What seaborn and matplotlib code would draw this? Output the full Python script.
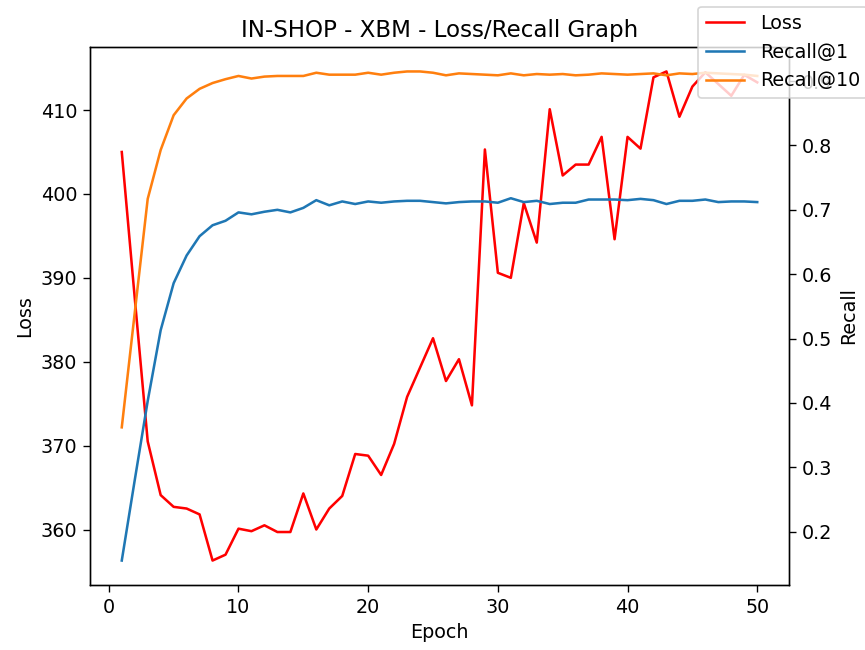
import matplotlib
matplotlib.use("Agg")
import matplotlib.pyplot as plt
import seaborn as sns
import pandas as pd

epochs = list(range(1, 51))

loss = [405.0, 387.6, 370.5, 364.1, 362.7, 362.5, 361.8, 356.3, 357.0, 360.1,
        359.8, 360.5, 359.7, 359.7, 364.3, 360.0, 362.5, 364.0, 369.0, 368.8,
        366.5, 370.2, 375.8, 379.3, 382.8, 377.7, 380.3, 374.8, 405.3, 390.6,
        390.0, 398.9, 394.2, 410.1, 402.2, 403.5, 403.5, 406.8, 394.6, 406.8,
        405.4, 413.9, 414.6, 409.2, 412.8, 414.5, 413.1, 411.7, 414.2, 413.3]

recall1 = [0.155, 0.280, 0.403, 0.513, 0.586, 0.629, 0.659, 0.676, 0.683, 0.696,
           0.693, 0.697, 0.700, 0.696, 0.703, 0.715, 0.707, 0.713, 0.709, 0.713,
           0.711, 0.713, 0.714, 0.714, 0.712, 0.710, 0.712, 0.713, 0.713, 0.711,
           0.718, 0.712, 0.714, 0.709, 0.711, 0.711, 0.716, 0.716, 0.716, 0.715,
           0.717, 0.715, 0.709, 0.714, 0.714, 0.716, 0.712, 0.713, 0.713, 0.712]

recall10 = [0.362, 0.540, 0.717, 0.793, 0.847, 0.873, 0.888, 0.897, 0.903, 0.908,
            0.904, 0.907, 0.908, 0.908, 0.908, 0.913, 0.910, 0.910, 0.910, 0.913,
            0.910, 0.913, 0.915, 0.915, 0.913, 0.909, 0.912, 0.911, 0.910, 0.909,
            0.912, 0.909, 0.911, 0.910, 0.911, 0.909, 0.910, 0.912, 0.911, 0.910,
            0.911, 0.912, 0.909, 0.912, 0.911, 0.913, 0.912, 0.911, 0.910, 0.908]

df = pd.DataFrame({"Epoch": epochs, "Loss": loss,
                   "Recall@1": recall1, "Recall@10": recall10})

plt.rcParams["font.size"] = 11.3
plt.rcParams["xtick.major.size"] = 4
plt.rcParams["ytick.major.size"] = 4

DPI = 122
fig = plt.figure(figsize=(865 / DPI, 650 / DPI), dpi=DPI)
ax = fig.add_axes([90 / 865, 1 - 585 / 650, 699 / 865, 538 / 650])
ax2 = ax.twinx()

sns.lineplot(data=df, x="Epoch", y="Loss", ax=ax, color="red", label="Loss", legend=False)
sns.lineplot(data=df, x="Epoch", y="Recall@1", ax=ax2, color="#1f77b4", label="Recall@1", legend=False)
sns.lineplot(data=df, x="Epoch", y="Recall@10", ax=ax2, color="#ff7f0e", label="Recall@10", legend=False)

ax.set_xlabel("Epoch")
ax.set_ylabel("Loss")
ax2.set_ylabel("Recall")
ax.set_title("IN-SHOP - XBM - Loss/Recall Graph")

h1, l1 = ax.get_legend_handles_labels()
h2, l2 = ax2.get_legend_handles_labels()
fig.legend(h1 + h2, l1 + l2, loc="upper right", bbox_to_anchor=(1.003, 0.99),
           borderaxespad=0.0)

fig.savefig("out.png", dpi=DPI)
